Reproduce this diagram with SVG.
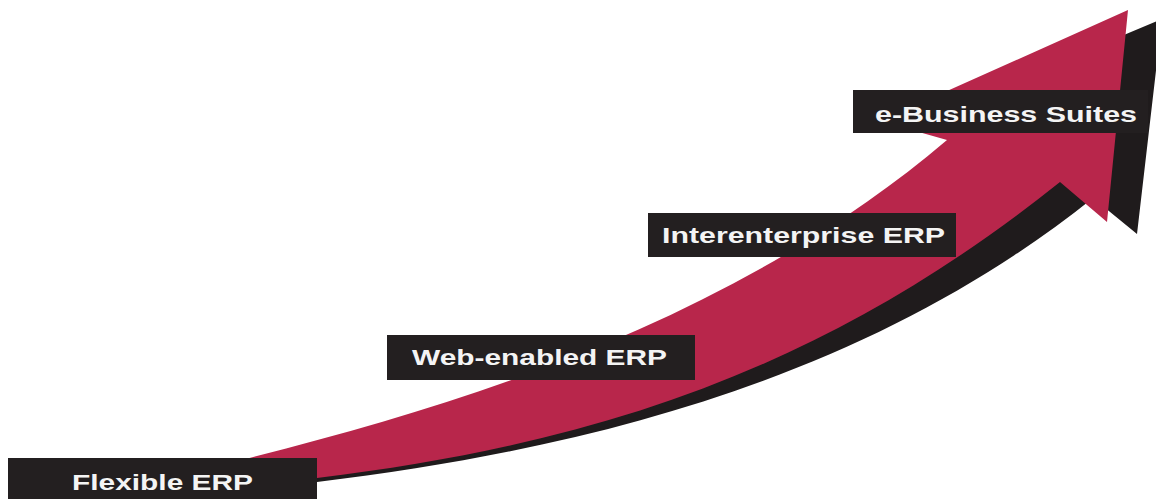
<svg xmlns="http://www.w3.org/2000/svg" width="1156" height="499" viewBox="0 0 1156 499">
  <style>
    .box { fill: #231f20; }
    .lbl { fill: #f4f4f4; font-family: "Liberation Sans", Arial, sans-serif; font-weight: bold; font-size: 22px; }
    .red { fill: #b8264b; }
    .shadow { fill: #1f1b1c; }
  </style>
  <rect width="1156" height="499" fill="#ffffff"/>
  <g id="arrow">
    <path class="shadow" d="M 250,470 C 495,404 747,318 950,150 L 1100,45 L 1162,19 L 1137,234 L 1093,198 C 893,358 637,443.6 317,482 L 250,486 Z"/>
    <path class="red" d="M 235,468 L 245,459 C 495,396.5 747,310 947,140 L 880,121 L 1128,10 L 1107,222 L 1060,182 C 840,358 617,442 317,478 L 240,482 Z"/>
  </g>
  <g id="node-flexible">
    <rect class="box" x="8" y="458" width="309" height="45"/>
    <text class="lbl" x="72" y="490" textLength="181" lengthAdjust="spacingAndGlyphs">Flexible ERP</text>
  </g>
  <g id="node-web">
    <rect class="box" x="387" y="335" width="308" height="45"/>
    <text class="lbl" x="412" y="365" textLength="255" lengthAdjust="spacingAndGlyphs">Web-enabled ERP</text>
  </g>
  <g id="node-inter">
    <rect class="box" x="648" y="213" width="308" height="44"/>
    <text class="lbl" x="662" y="243" textLength="283" lengthAdjust="spacingAndGlyphs">Interenterprise ERP</text>
  </g>
  <g id="node-ebusiness">
    <rect class="box" x="853" y="90" width="295" height="43"/>
    <text class="lbl" x="875" y="122" textLength="262" lengthAdjust="spacingAndGlyphs">e-Business Suites</text>
  </g>
</svg>
